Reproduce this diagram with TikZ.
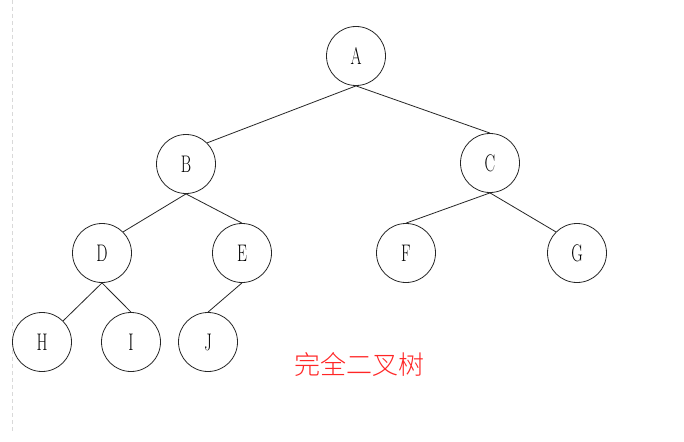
\documentclass[tikz,border=0pt]{standalone}
\usepackage{fontspec}
\usepackage{graphicx}
\newfontfamily\cjk{Noto Sans CJK SC}[UprightFont=* Light]
\begin{document}
\begin{tikzpicture}[x=1pt,y=-1pt,
  tnode/.style={circle,draw=black!85,line width=0.8pt,minimum size=59pt,inner sep=0pt,
    font=\fontsize{24}{24}\selectfont},
  tedge/.style={draw=black!85,line width=0.8pt}]
\useasboundingbox (0,0) rectangle (684,441);
\fill[white] (0,0) rectangle (684,441);
\coordinate (dtop) at (12.5,0);
\coordinate (dbot) at (12.5,432);
\draw[black!15,dashed,dash pattern=on 4pt off 3pt] (dtop) -- (dbot);
\newcommand{\nl}[1]{\scalebox{0.66}[1]{#1}}
\node[tnode] (A) at (356,56) {\nl{A}};
\node[tnode] (B) at (186,164) {\nl{B}};
\node[tnode] (C) at (490,163) {\nl{C}};
\node[tnode] (D) at (102,253) {\nl{D}};
\node[tnode] (E) at (242,253) {\nl{E}};
\node[tnode] (F) at (406,253) {\nl{F}};
\node[tnode] (G) at (577,253) {\nl{G}};
\node[tnode] (H) at (42,342) {\nl{H}};
\node[tnode] (I) at (131,342) {\nl{I}};
\node[tnode] (J) at (208,342) {\nl{J}};
\draw[tedge] (A.south) -- (B.north east);
\draw[tedge] (A.south) -- (C.north);
\draw[tedge] (B.south) -- (D.north east);
\draw[tedge] (B.south) -- (E.north);
\draw[tedge] (C.south) -- (F.north);
\draw[tedge] (C.south) -- (G.north west);
\draw[tedge] (D.south) -- (H.north east);
\draw[tedge] (D.south) -- (I.north);
\draw[tedge] (E.south) -- (J.north);
\node[text=red!85!white,font=\cjk\fontsize{26}{26}\selectfont] (title) at (359,364) {完全二叉树};
\end{tikzpicture}
\end{document}
